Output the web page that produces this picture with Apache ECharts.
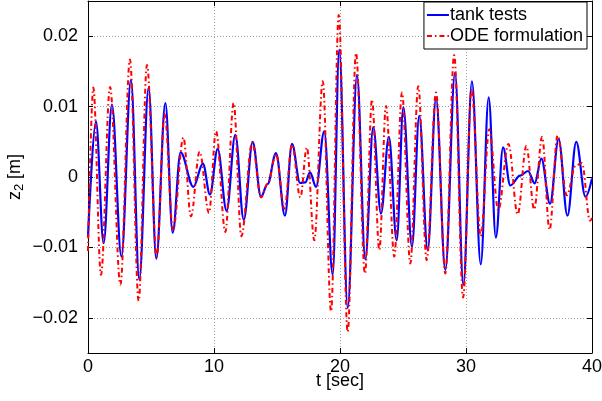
<!DOCTYPE html>
<html>
<head>
<meta charset="utf-8">
<script src="https://cdn.jsdelivr.net/npm/echarts@6/dist/echarts.min.js"></script>
<style>html,body{margin:0;padding:0;background:#fff;}#c{width:602px;height:401px;}</style>
</head>
<body>
<div id="c"></div>
<script>
// Extrema (t in sec, z2 in m)
var tankT = [0, 0.63, 1.24, 1.90, 2.65, 3.41, 4.07, 4.81, 5.42, 6.14, 6.72, 7.35, 8.36, 9.12, 9.68, 10.29, 11.0, 11.69, 12.36, 13.07, 13.73, 14.25, 14.92, 15.63, 16.19, 16.83, 17.25, 17.62, 18.10, 18.75, 19.42, 19.94, 20.61, 21.35, 22.01, 22.64, 23.25, 23.88, 24.5, 25.03, 25.71, 26.29, 26.96, 27.62, 28.36, 29.13, 29.79, 30.47, 31.17, 31.80, 32.37, 32.94, 33.52, 34.3, 34.92, 35.45, 35.98, 36.67, 37.35, 38.05, 38.75, 39.48, 40];
var tankZ = [-0.0085, 0.0079, -0.0094, 0.0103, -0.0113, 0.0138, -0.0146, 0.0127, -0.0116, 0.0105, -0.0079, 0.0035, -0.0014, 0.0019, -0.0025, 0.0040, -0.0048, 0.0060, -0.0061, 0.0050, -0.0028, -0.0010, 0.0034, -0.0055, 0.0047, -0.00085, -0.00075, 0.00066, -0.0014, 0.0065, -0.0139, 0.0181, -0.0186, 0.0145, -0.0117, 0.0071, -0.0052, 0.0057, -0.0090, 0.0099, -0.0099, 0.0087, -0.0104, 0.0112, -0.0132, 0.0148, -0.0153, 0.0136, -0.0124, 0.0113, -0.0086, 0.0042, -0.0012, 0.0002, 0.00085, -0.0009, 0.0026, -0.0038, 0.0054, -0.0055, 0.0050, -0.0028, -0.0002];
var odeT = [0, 0.42, 1.03, 1.75, 2.57, 3.33, 4.02, 4.68, 5.45, 6.08, 6.75, 7.57, 8.17, 8.86, 9.6, 10.16, 10.90, 11.56, 12.17, 13.03, 13.73, 14.25, 14.92, 15.59, 16.19, 16.85, 17.37, 17.96, 18.63, 19.29, 19.9, 20.61, 21.27, 21.98, 22.54, 23.12, 23.65, 24.31, 24.92, 25.58, 26.21, 26.88, 27.62, 28.36, 29.06, 29.77, 30.44, 31.17, 31.85, 32.56, 33.37, 34.10, 34.79, 35.41, 36.04, 36.63, 37.27, 38.0, 38.7, 39.2, 39.84, 40];
var odeZ = [-0.0105, 0.0127, -0.0139, 0.0128, -0.0153, 0.0167, -0.0176, 0.0159, -0.0113, 0.0089, -0.0075, 0.0056, -0.0056, 0.0036, -0.0051, 0.0065, -0.0078, 0.0105, -0.0084, 0.0049, -0.0029, -0.0010, 0.0032, -0.0045, 0.0046, -0.0029, 0.0042, -0.0090, 0.0136, -0.0191, 0.0230, -0.0220, 0.0176, -0.0137, 0.0110, -0.0104, 0.0101, -0.0113, 0.0120, -0.0123, 0.0129, -0.0118, 0.0120, -0.0137, 0.0173, -0.0171, 0.0125, -0.0084, 0.0068, -0.0047, 0.0047, -0.0053, 0.0044, -0.0046, 0.0057, -0.0075, 0.0059, -0.0026, 0.0016, 0.0020, -0.0062, -0.0058];
var xTicks = [0, 10, 20, 30, 40];
var yTicks = [-0.02, -0.01, 0, 0.01, 0.02];
var seriesNames = ['tank tests', 'ODE formulation'];

function zip(a, b) { return a.map(function (v, i) { return [v, b[i]]; }); }
var FONT = 'Liberation Sans';
function yFmt(v) {
  if (Math.abs(v) < 1e-9) return '0';
  return v.toFixed(2).replace('-', '\u2212');
}
var gridLine = { show: true, lineStyle: { color: '#a0a0a0', type: [1, 2], width: 1 } };
var chart = echarts.init(document.getElementById('c'), null, { renderer: 'canvas' });
chart.setOption({
  animation: false,
  backgroundColor: '#fff',
  grid: { left: 88, right: 10, top: 1, bottom: 48, containLabel: false, outerBoundsMode: 'none' },
  legend: {
    orient: 'vertical', right: 15, top: 2,
    backgroundColor: '#fff', borderColor: '#000', borderWidth: 1,
    padding: [4, 4, 4, 2], itemGap: 3, itemWidth: 22, itemHeight: 14,
    itemStyle: { color: 'rgba(0,0,0,0)', borderWidth: 0, opacity: 0 },
    textStyle: { fontFamily: FONT, fontSize: 18, color: '#000', padding: [0, 0, 0, -4] },
    data: seriesNames
  },
  xAxis: [{
    type: 'value', min: 0, max: 40, interval: 10, position: 'bottom',
    name: 't [sec]', nameLocation: 'middle', nameGap: 19, nameMoveOverlap: false,
    nameTextStyle: { fontFamily: FONT, fontSize: 18, color: '#000' },
    axisLine: { show: true, onZero: false, lineStyle: { color: '#000', width: 1 } },
    axisTick: { show: true, inside: true, length: 5, lineStyle: { color: '#000' } },
    axisLabel: { fontFamily: FONT, fontSize: 18, color: '#000', margin: 5, showMinLabel: true, showMaxLabel: true },
    splitLine: gridLine
  }, {
    type: 'value', min: 0, max: 40, interval: 10, position: 'top',
    axisLine: { show: true, onZero: false, lineStyle: { color: '#000', width: 1 } },
    axisTick: { show: true, inside: true, length: 5, lineStyle: { color: '#000' } },
    axisLabel: { show: false }, splitLine: { show: false }
  }],
  yAxis: [{
    type: 'value', min: -0.025, max: 0.025, position: 'left',
    name: '{a|z}{b|2}{a| [m]}', nameLocation: 'middle', nameGap: 62, nameRotate: 90, nameMoveOverlap: false,
    nameTextStyle: {
      fontFamily: FONT, color: '#000',
      rich: {
        a: { fontFamily: FONT, fontSize: 18, color: '#000' },
        b: { fontFamily: FONT, fontSize: 13, color: '#000', verticalAlign: 'bottom', padding: [9, 0, 0, 0] }
      }
    },
    axisLine: { show: true, onZero: false, lineStyle: { color: '#000', width: 1 } },
    axisTick: { show: true, inside: true, length: 5, customValues: yTicks, lineStyle: { color: '#000' } },
    axisLabel: { fontFamily: FONT, fontSize: 18, color: '#000', margin: 10, customValues: yTicks, formatter: yFmt },
    splitLine: gridLine
  }, {
    type: 'value', min: -0.025, max: 0.025, position: 'right',
    axisLine: { show: true, onZero: false, lineStyle: { color: '#000', width: 1 } },
    axisTick: { show: true, inside: true, length: 5, customValues: yTicks, lineStyle: { color: '#000' } },
    axisLabel: { show: false }, splitLine: { show: false }
  }],
  series: [{
    name: seriesNames[0], type: 'line', xAxisIndex: 0, yAxisIndex: 0,
    data: zip(tankT, tankZ), showSymbol: false, symbol: 'none',
    smooth: 0.36, smoothMonotone: 'x',
    lineStyle: { color: '#0000ff', width: 2.2 }, itemStyle: { color: '#0000ff' }
  }, {
    name: seriesNames[1], type: 'line', xAxisIndex: 0, yAxisIndex: 0,
    data: zip(odeT, odeZ), showSymbol: false, symbol: 'none',
    smooth: 0.36, smoothMonotone: 'x',
    lineStyle: { color: '#ff0000', width: 2, type: [5, 3, 1.5, 3] }, itemStyle: { color: '#ff0000' }
  }]
});
</script>
</body>
</html>
